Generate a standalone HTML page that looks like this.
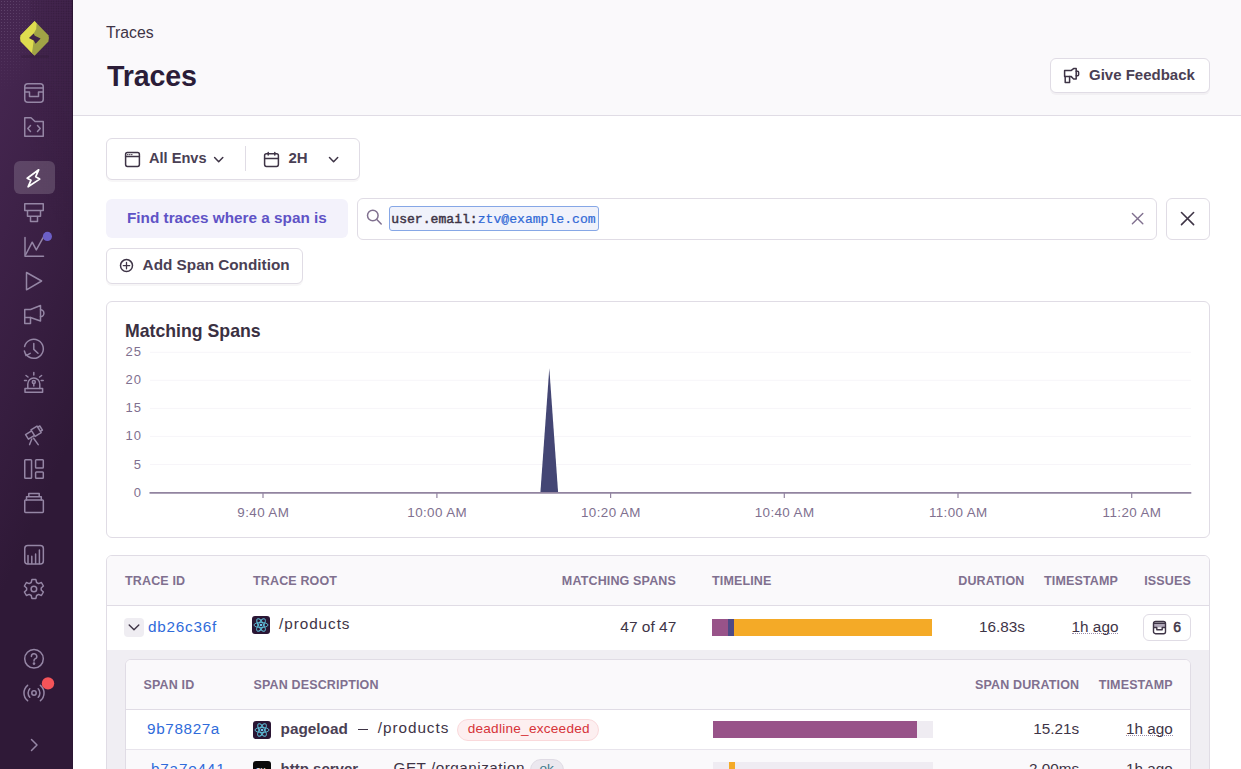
<!DOCTYPE html>
<html><head><meta charset="utf-8">
<style>
*{box-sizing:border-box;margin:0;padding:0}
html,body{width:1241px;height:769px;overflow:hidden;background:#fff;font-family:"Liberation Sans",sans-serif;color:#3E3446}
.a{position:absolute}
.t{position:absolute;line-height:1;white-space:nowrap}
.b{font-weight:bold}
#sb{position:absolute;left:0;top:0;width:73px;height:769px;background:linear-gradient(294.17deg,#2f1937 35.57%,#452650 92.42%,#452650 92.42%);border-right:1px solid #2c1634}
.ic{position:absolute;left:24px;width:20px;height:20px}
.ic svg{display:block;width:20px;height:20px}
#hdr{position:absolute;left:73px;top:0;width:1168px;height:116px;background:#FAF9FB;border-bottom:1px solid #E0DCE5}
.btn{position:absolute;background:#fff;border:1px solid #E0DCE5;border-radius:6px;box-shadow:0 2px 0 rgba(43,34,51,0.04)}
.hd{font-size:12.5px;font-weight:bold;color:#80708F;text-transform:uppercase;letter-spacing:0.15px}
</style></head>
<body>
<div id="sb">
<div class="a" style="left:0;top:0;width:60px;height:110px;background-image:radial-gradient(circle,rgba(190,170,200,0.22) 0.7px,transparent 0.9px);background-size:3px 3px;-webkit-mask-image:radial-gradient(ellipse 45px 95px at 0 0,#000 25%,transparent 100%)"></div>
<div class="a" style="left:30px;top:0;width:42px;height:769px;background-image:radial-gradient(circle,rgba(20,5,25,0.35) 0.7px,transparent 0.9px);background-size:2.5px 2.5px;-webkit-mask-image:linear-gradient(245deg,#000 0%,transparent 30%)"></div>
<svg width="73" height="769" viewBox="0 0 73 769" style="position:absolute;left:0;top:0" fill="none" stroke="#9586A5" stroke-width="1.5" stroke-linejoin="round" stroke-linecap="round">
 <!-- logo -->
 <rect x="21" y="55" width="28" height="3" rx="1.5" fill="#2a1631" stroke="none" opacity="0.25"/>
 <path d="M34.6,21 L48.4,35.2 Q49.6,38.3 48.4,41.4 L34.6,55.8 L20.7,41.4 Q19.5,38.3 20.7,35.2 Z" fill="#A0A346" stroke="none"/>
 <path d="M34.6,21 L36.6,23.6 L36.2,29 L33.7,33.4 L29,38.1 L33.7,40.6 L33,46 L32,52.5 L34.6,55.8 L20.7,41.4 Q19.5,38.3 20.7,35.2 Z" fill="#DEDC4F" stroke="none"/>
 <path d="M29,38.1 L33.7,33.4 L34.8,35.8 L40.6,38.4 L35.6,43.8 L33.8,40.6 Z" fill="#3F2449" stroke="none"/>
 <!-- issues -->
 <rect x="24.75" y="83.75" width="18.5" height="18.5" rx="3"/>
 <path d="M24.75,88 H43.25 M24.75,92 H29.5 V96.5 H38.5 V92 H43.25"/>
 <!-- projects -->
 <path d="M24.75,136.25 V117.75 H31 L35,121.5 H43.25 V136.25 Z"/>
 <path d="M30.5,125.5 L27.8,128.5 L30.5,131.5 M37.5,125.5 L40.2,128.5 L37.5,131.5"/>
 <!-- active -->
 <rect x="14" y="161" width="41" height="33" rx="6" fill="rgba(255,255,255,0.16)" stroke="none"/>
 <path d="M38.7,169.8 L27.2,178.3 L31,180.2 L28.1,186.8 L39.7,179.1 L35.7,176.7 Z" stroke="#fff" stroke-width="1.7"/>
 <!-- profiling -->
 <path d="M24.75,203.75 H43.25 V210.5 H24.75 Z M27.5,210.5 H40.5 V216.25 H27.5 Z M30.5,216.25 H37.5 V221.5 H30.5 Z"/>
 <!-- chart -->
 <path d="M25,237.5 V256.25 H43.5"/>
 <path d="M25.8,254.5 L32.2,242.2 L36.3,249.9 L43,237.8"/>
 <circle cx="47.4" cy="236.4" r="4.6" fill="#6C5FC7" stroke="none"/>
 <!-- play -->
 <path d="M26.5,272.5 V289.8 L41.6,281 Z"/>
 <!-- megaphone -->
 <path d="M24.75,309.5 H30.5 L40.5,305.5 V321 L30.5,317.5 H24.75 Z"/>
 <path d="M24.75,317.5 V323.5 H30.5 V317.5"/>
 <path d="M40.5,309.8 A3.1,3.1 0 0 1 40.5,316.6"/>
 <!-- history -->
 <path d="M26.2,354.5 A9.5,9.5 0 1 0 24.6,346.5"/>
 <path d="M24.4,351 L26,355.6 L30.2,353.4"/>
 <path d="M33.8,343.6 V349.4 L38,353.3"/>
 <!-- siren -->
 <path d="M25,392.3 H42.6 V388.4 H25 Z"/>
 <path d="M27.8,388.4 V384 A6,6 0 0 1 39.8,384 V388.4"/>
 <circle cx="33.8" cy="382" r="1.5"/>
 <path d="M33.8,383.5 V386"/>
 <path d="M33.8,372.5 V375 M26,375.5 L28,377 M41.6,375.5 L39.6,377 M24.5,380.5 H26.5 M41.2,380.5 H43.2"/>
 <!-- telescope -->
 <path d="M25.57,434.61 L31.61,430.83 L34.48,435.41 L28.43,439.19 Z M30.98,429.83 L37.03,426.05 L41.15,432.64 L35.11,436.42 Z M37.77,427.24 L39.79,425.98 L42.42,430.19 L40.41,431.45 Z"/>
 <path d="M31.8,439 L29.6,444.6 M33.6,438.2 L38.2,444.6"/>
 <!-- dashboards -->
 <rect x="24.75" y="459.75" width="6.8" height="18.6" rx="0.8"/>
 <rect x="35.6" y="459.75" width="7.7" height="8.3" rx="0.8"/>
 <rect x="35.6" y="472" width="7.7" height="6.3" rx="0.8"/>
 <!-- releases -->
 <rect x="24.75" y="500" width="18.6" height="12.4" rx="0.8"/>
 <path d="M26.5,500 V496.8 H41.3 V500 M28.8,496.8 V493.6 H39.2 V496.8"/>
 <!-- stats -->
 <rect x="24.75" y="545.5" width="18.6" height="18.6" rx="3"/>
 <path d="M28,563.5 V555.5 M31.8,563.5 V556.2 M35.6,563.5 V554 M39.4,563.5 V550"/>
 <!-- settings -->
 <path d="M31.9,579.6 H35.9 L36.6,582.5 L38.6,583.6 L41.4,582.5 L43.4,586 L41.2,588 V590 L43.4,592 L41.4,595.5 L38.6,594.4 L36.6,595.5 L35.9,598.4 H31.9 L31.2,595.5 L29.2,594.4 L26.4,595.5 L24.4,592 L26.6,590 V588 L24.4,586 L26.4,582.5 L29.2,583.6 L31.2,582.5 Z"/>
 <circle cx="33.9" cy="589" r="2.8"/>
 <!-- help -->
 <circle cx="34" cy="658.8" r="9.3"/>
 <path d="M31.4,656.4 A2.7,2.7 0 1 1 35,658.9 Q34,659.5 34,661"/>
 <circle cx="34" cy="663.6" r="0.6" fill="#9586A5"/>
 <!-- broadcast -->
 <circle cx="34" cy="693" r="2.2"/>
 <path d="M29.8,688.8 A6,6 0 0 0 29.8,697.2 M38.2,688.8 A6,6 0 0 1 38.2,697.2"/>
 <path d="M27.6,685.3 A10,10 0 0 0 27.6,700.7 M40.4,685.3 A10,10 0 0 1 40.4,700.7"/>
 <circle cx="48" cy="683.4" r="6.2" fill="#F55459" stroke="none"/>
 <!-- collapse -->
 <path d="M31.5,739.5 L37,745 L31.5,750.5"/>
</svg>
</div>

<div id="hdr"></div>
<div class="t" style="left:106px;top:25px;font-size:15.8px;color:#3E3446">Traces</div>
<div class="t b" style="left:107px;top:61.9px;font-size:28.6px;letter-spacing:-0.15px;color:#2B1D38">Traces</div>

<div class="btn" style="left:1050px;top:58px;width:160px;height:35px"></div>
<div class="t b" style="left:1089px;top:67.3px;font-size:15px;color:#4A4054">Give Feedback</div>

<!-- filter bar -->
<div class="btn" style="left:106px;top:138px;width:254px;height:42px"></div>
<div class="a" style="left:245px;top:146px;width:1px;height:25px;background:#E0DCE5"></div>
<div class="t b" style="left:149px;top:150.9px;font-size:14.6px;color:#4A4054">All Envs</div>
<div class="t b" style="left:288.5px;top:149.9px;font-size:15px;color:#4A4054">2H</div>

<!-- search row -->
<div class="a" style="left:106px;top:199px;width:242px;height:39px;background:#F3F2FB;border-radius:6px"></div>
<div class="t b" style="left:127px;top:210.1px;font-size:15.3px;color:#5F53C6">Find traces where a span is</div>
<div class="btn" style="left:357px;top:198px;width:800px;height:42px;box-shadow:none"></div>
<div class="a" style="left:389px;top:206px;width:210px;height:25px;background:#F0F2FB;border:1px solid #86A7E6;border-radius:3px"></div>
<div class="t" style="left:391.3px;top:213.2px;font-size:13.1px;font-family:'Liberation Mono',monospace;color:#3E3446;-webkit-text-stroke:0.45px #3E3446">user.email:<span style="color:#2F68D6;-webkit-text-stroke:0.2px #2F68D6">ztv@example.com</span></div>
<div class="btn" style="left:1166px;top:198px;width:44px;height:42px;box-shadow:none"></div>

<div class="btn" style="left:106px;top:248px;width:197px;height:36px"></div>
<div class="t b" style="left:142.6px;top:257.2px;font-size:15.3px;color:#4A4054">Add Span Condition</div>

<!-- chart panel -->
<div class="btn" style="left:106px;top:301px;width:1104px;height:237px;box-shadow:none"></div>
<div class="t b" style="left:125px;top:323.2px;font-size:17.7px;color:#3A3042">Matching Spans</div>

<svg width="1241" height="769" viewBox="0 0 1241 769" style="position:absolute;left:0;top:0;pointer-events:none">
<line x1="150" y1="352.3" x2="1191" y2="352.3" stroke="#F7F5F9" stroke-width="1"/>
<line x1="150" y1="380.3" x2="1191" y2="380.3" stroke="#F7F5F9" stroke-width="1"/>
<line x1="150" y1="408.4" x2="1191" y2="408.4" stroke="#F7F5F9" stroke-width="1"/>
<line x1="150" y1="436.4" x2="1191" y2="436.4" stroke="#F7F5F9" stroke-width="1"/>
<line x1="150" y1="464.5" x2="1191" y2="464.5" stroke="#F7F5F9" stroke-width="1"/>
<path d="M540.4,492.6 L549.3,368.3 L558.1,492.6 Z" fill="#444674"/>
<line x1="149.5" y1="492.8" x2="1191.3" y2="492.8" stroke="#9284A0" stroke-width="1.8"/>
<line x1="263.0" y1="493" x2="263.0" y2="498" stroke="#9284A0" stroke-width="1.2"/>
<line x1="436.9" y1="493" x2="436.9" y2="498" stroke="#9284A0" stroke-width="1.2"/>
<line x1="610.6" y1="493" x2="610.6" y2="498" stroke="#9284A0" stroke-width="1.2"/>
<line x1="784.3" y1="493" x2="784.3" y2="498" stroke="#9284A0" stroke-width="1.2"/>
<line x1="958.0" y1="493" x2="958.0" y2="498" stroke="#9284A0" stroke-width="1.2"/>
<line x1="1131.7" y1="493" x2="1131.7" y2="498" stroke="#9284A0" stroke-width="1.2"/>
</svg>
<div class="t" style="right:1099px;top:344.6px;font-size:13px;letter-spacing:1px;color:#80708F">25</div>
<div class="t" style="right:1099px;top:372.8px;font-size:13px;letter-spacing:1px;color:#80708F">20</div>
<div class="t" style="right:1099px;top:401.1px;font-size:13px;letter-spacing:1px;color:#80708F">15</div>
<div class="t" style="right:1099px;top:429.3px;font-size:13px;letter-spacing:1px;color:#80708F">10</div>
<div class="t" style="right:1099px;top:457.6px;font-size:13px;letter-spacing:1px;color:#80708F">5</div>
<div class="t" style="right:1099px;top:485.8px;font-size:13px;letter-spacing:1px;color:#80708F">0</div>
<div class="t" style="left:203.3px;width:120px;text-align:center;top:505.7px;font-size:13.4px;letter-spacing:0.4px;color:#80708F">9:40 AM</div>
<div class="t" style="left:377.2px;width:120px;text-align:center;top:505.7px;font-size:13.4px;letter-spacing:0.4px;color:#80708F">10:00 AM</div>
<div class="t" style="left:550.9px;width:120px;text-align:center;top:505.7px;font-size:13.4px;letter-spacing:0.4px;color:#80708F">10:20 AM</div>
<div class="t" style="left:724.6px;width:120px;text-align:center;top:505.7px;font-size:13.4px;letter-spacing:0.4px;color:#80708F">10:40 AM</div>
<div class="t" style="left:898.3px;width:120px;text-align:center;top:505.7px;font-size:13.4px;letter-spacing:0.4px;color:#80708F">11:00 AM</div>
<div class="t" style="left:1072.0px;width:120px;text-align:center;top:505.7px;font-size:13.4px;letter-spacing:0.4px;color:#80708F">11:20 AM</div>
<!-- table -->
<div class="a" style="left:106px;top:555px;width:1104px;height:230px;border:1px solid #E0DCE5;border-radius:6px;background:#fff;overflow:hidden">
  <div class="a" style="left:0;top:0;width:1102px;height:50px;background:#FAF9FB;border-bottom:1px solid #E0DCE5"></div>
  <div class="a" style="left:0;top:94px;width:1102px;height:200px;background:#F0EEF3"></div>
  <div class="a" style="left:18px;top:103px;width:1066px;height:200px;background:#fff;border:1px solid #E0DCE5;border-radius:6px;overflow:hidden">
    <div class="a" style="left:0;top:0;width:1064px;height:50px;background:#FAF9FB;border-bottom:1px solid #E0DCE5"></div>
    <div class="a" style="left:0;top:89px;width:1064px;height:1px;background:#E8E4EC"></div>
    <div class="a" style="left:0;top:90px;width:1064px;height:60px;background:#FAF9FB"></div>
  </div>
</div>
<div class="t hd" style="left:125px;top:574.7px">Trace ID</div>
<div class="t hd" style="left:253px;top:574.7px">Trace Root</div>
<div class="t hd" style="right:565px;top:574.7px">Matching Spans</div>
<div class="t hd" style="left:712px;top:574.7px">Timeline</div>
<div class="t hd" style="right:216.5px;top:574.7px">Duration</div>
<div class="t hd" style="right:123px;top:574.7px">Timestamp</div>
<div class="t hd" style="right:50px;top:574.7px">Issues</div>


<!-- table rows -->
<div class="a" style="left:124px;top:618px;width:20px;height:19px;border-radius:4px;background:#EFEDF2"></div>
<svg class="a" style="left:124px;top:618px" width="20" height="19" viewBox="0 0 20 19" fill="none" stroke="#3E3446" stroke-width="1.4" stroke-linecap="round" stroke-linejoin="round"><path d="M5.2,7 L10,11.8 L14.8,7"/></svg>
<div class="t" style="left:148px;top:618.75px;font-size:15.3px;color:#2F6BDA;letter-spacing:0.75px;">db26c36f</div>
<svg class="a" style="left:252px;top:616px" width="18" height="18" viewBox="0 0 18 18"><rect x="0" y="0" width="18" height="18" rx="3" fill="#2A1634"/><g fill="none" stroke="#5EBFD9" stroke-width="0.9"><ellipse cx="9" cy="9" rx="7" ry="2.6"/><ellipse cx="9" cy="9" rx="7" ry="2.6" transform="rotate(60 9 9)"/><ellipse cx="9" cy="9" rx="7" ry="2.6" transform="rotate(-60 9 9)"/></g><circle cx="9" cy="9" r="1.3" fill="#6CC4F0"/></svg>
<div class="t" style="left:279px;top:616.25px;font-size:15.3px;color:#3E3446;letter-spacing:0.95px;">/products</div>
<div class="t" style="right:564.7px;top:618.78px;font-size:15.5px;color:#3E3446;">47 of 47</div>
<div class="a" style="left:712px;top:619px;width:220px;height:16.5px;background:#F4AA27"></div>
<div class="a" style="left:712px;top:619px;width:16px;height:16.5px;background:#985389"></div>
<div class="a" style="left:728px;top:619px;width:6px;height:16.5px;background:#4E4A86"></div>
<div class="t" style="right:216.20000000000005px;top:619.25px;font-size:15.3px;color:#3E3446;">16.83s</div>
<div class="t" style="right:122.59999999999991px;top:619.15px;font-size:15.3px;color:#3E3446;border-bottom:1px dotted #9A8DA8;line-height:15px;height:14.6px">1h ago</div>
<div class="btn" style="left:1143px;top:614px;width:48px;height:27px;box-shadow:none"></div>
<svg class="a" style="left:1152px;top:619.6px" width="15" height="15" viewBox="0 0 15 15" fill="none" stroke="#3E3446" stroke-width="1.4" stroke-linejoin="round"><rect x="2" y="3.2" width="11" height="4.2" fill="rgba(110,95,125,0.55)" stroke="none"/><rect x="1.5" y="1.5" width="12" height="12.2" rx="2"/><path d="M1.5,3.2 H13.5 M1.5,7.5 H4.8 V9.8 H10.2 V7.5 H13.5"/></svg>
<div class="t" style="left:1173.3px;top:620.3px;font-size:14px;color:#3E3446;-webkit-text-stroke:0.5px #3E3446">6</div>
<div class="t" style="left:143.5px;top:679.10px;font-size:12.5px;color:#80708F;font-weight:bold;letter-spacing:0.15px;">SPAN ID</div>
<div class="t" style="left:253.5px;top:679.10px;font-size:12.5px;color:#80708F;font-weight:bold;letter-spacing:0.15px;">SPAN DESCRIPTION</div>
<div class="t" style="right:161.79999999999995px;top:679.10px;font-size:12.5px;color:#80708F;font-weight:bold;letter-spacing:0.15px;">SPAN DURATION</div>
<div class="t" style="right:68.29999999999995px;top:679.10px;font-size:12.5px;color:#80708F;font-weight:bold;letter-spacing:0.15px;">TIMESTAMP</div>
<div class="t" style="left:147.1px;top:721.35px;font-size:15.3px;color:#2F6BDA;letter-spacing:0.6px;">9b78827a</div>
<svg class="a" style="left:253px;top:720.5px" width="18" height="18" viewBox="0 0 18 18"><rect x="0" y="0" width="18" height="18" rx="3" fill="#2A1634"/><g fill="none" stroke="#5EBFD9" stroke-width="0.9"><ellipse cx="9" cy="9" rx="7" ry="2.6"/><ellipse cx="9" cy="9" rx="7" ry="2.6" transform="rotate(60 9 9)"/><ellipse cx="9" cy="9" rx="7" ry="2.6" transform="rotate(-60 9 9)"/></g><circle cx="9" cy="9" r="1.3" fill="#6CC4F0"/></svg>
<div class="t" style="left:280.6px;top:720.70px;font-size:15.3px;color:#4A4054;font-weight:bold;">pageload</div>
<div class="a" style="left:358.3px;top:728.8px;width:10.2px;height:1.5px;background:#3E3446"></div>
<div class="t" style="left:377.8px;top:720.45px;font-size:15.3px;color:#3E3446;letter-spacing:0.95px;">/products</div>
<div class="a" style="left:457px;top:719px;width:142px;height:22px;border-radius:11px;background:#FDEFF0;border:1px solid #FAD9DB"></div>
<div class="t" style="left:467.7px;top:722.19px;font-size:13.6px;color:#D63339;letter-spacing:0.25px;">deadline_exceeded</div>
<div class="a" style="left:713px;top:721px;width:220px;height:17px;background:#EFECF2"></div>
<div class="a" style="left:713px;top:721px;width:204px;height:17px;background:#985389"></div>
<div class="t" style="right:161.79999999999995px;top:721.35px;font-size:15.3px;color:#3E3446;">15.21s</div>
<div class="t" style="right:68.29999999999995px;top:721.35px;font-size:15.3px;color:#3E3446;border-bottom:1px dotted #9A8DA8;line-height:15px;height:14.6px">1h ago</div>
<div class="t" style="left:151px;top:761.35px;font-size:15.3px;color:#2F6BDA;letter-spacing:0.8px;">b7a7e441</div>
<div class="a" style="left:253px;top:761px;width:18px;height:18px;border-radius:3px;background:#0A0A0A;overflow:hidden"><div class="t" style="left:2.5px;top:5px;font-size:10px;color:#fff;letter-spacing:-0.5px">ex</div></div>
<div class="t" style="left:280.6px;top:760.70px;font-size:15px;color:#4A4054;font-weight:bold;">http.server</div>
<div class="a" style="left:375.3px;top:768.5px;width:9.2px;height:1.5px;background:#3E3446"></div>
<div class="t" style="left:393.5px;top:760.45px;font-size:15.3px;color:#3E3446;letter-spacing:0.5px;">GET /organization</div>
<div class="a" style="left:529.5px;top:759px;width:34.5px;height:22px;border-radius:11px;background:#EBE8EF;border:1px solid #E0DCE5"></div>
<div class="t" style="left:539.5px;top:762.19px;font-size:13.6px;color:#3D7A8C;">ok</div>
<div class="a" style="left:713px;top:762px;width:220px;height:17px;background:#EFECF2"></div>
<div class="a" style="left:729.3px;top:762px;width:6px;height:17px;background:#F4AA27"></div>
<div class="t" style="right:161.79999999999995px;top:761.35px;font-size:15.3px;color:#3E3446;">2.00ms</div>
<div class="t" style="right:68.29999999999995px;top:761.35px;font-size:15.3px;color:#3E3446;">1h ago</div>
<!-- main icons -->
<svg width="1241" height="769" viewBox="0 0 1241 769" style="position:absolute;left:0;top:0;pointer-events:none" fill="none" stroke="#3E3446" stroke-width="1.5" stroke-linejoin="round" stroke-linecap="round">
 <!-- feedback megaphone -->
 <path d="M1064.6,70.6 H1071 L1073.6,68.6 H1076.2 V79 H1073.6 L1071,76.4 H1064.6 Z"/>
 <path d="M1065.2,76.4 V82.4 H1069.6 V76.4"/>
 <path d="M1076.2,71.2 H1077.6 Q1078.6,71.2 1078.6,72.2 V74.8 Q1078.6,75.8 1077.6,75.8 H1076.2"/>
 <!-- browser icon -->
 <rect x="125.6" y="152.6" width="13.8" height="13.8" rx="1.8"/>
 <path d="M125.6,156.6 H139.4"/>
 <path d="M127.6,154.6 H128 M129.6,154.6 H130 M131.6,154.6 H132" stroke-width="1.1"/>
 <!-- chevron 1 -->
 <path d="M214.6,157.6 L218.7,161.8 L222.8,157.6"/>
 <!-- calendar -->
 <rect x="264.6" y="153.8" width="13.8" height="12.6" rx="1.8"/>
 <path d="M264.6,158.4 H278.4 M268.2,152.4 V155 M274.8,152.4 V155"/>
 <!-- chevron 2 -->
 <path d="M329.5,157.6 L333.6,161.8 L337.7,157.6"/>
 <!-- search -->
 <circle cx="372.8" cy="215.5" r="5.3" stroke="#80708F"/>
 <path d="M376.8,219.5 L381.2,224" stroke="#80708F"/>
 <!-- clear x -->
 <path d="M1132.4,213.4 L1142.8,223.8 M1142.8,213.4 L1132.4,223.8" stroke="#80708F" stroke-width="1.4"/>
 <!-- close x -->
 <path d="M1181.5,212.5 L1193.6,224.6 M1193.6,212.5 L1181.5,224.6" stroke-width="1.6"/>
 <!-- plus circle -->
 <circle cx="126.5" cy="265.6" r="6"/>
 <path d="M123.3,265.6 H129.7 M126.5,262.4 V268.8" stroke-width="1.3"/>
</svg>
</body></html>
